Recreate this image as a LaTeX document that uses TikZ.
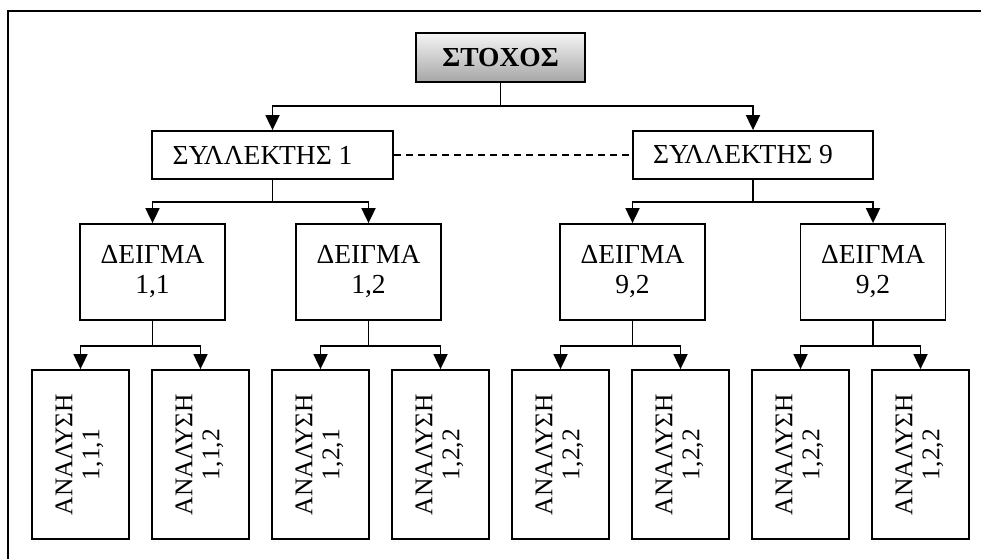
\documentclass[tikz,border=0pt]{standalone}
\usepackage{fontspec}
\setmainfont{Liberation Serif}
\usepackage{graphicx}
\usetikzlibrary{arrows.meta}
\newcommand{\vlab}[2]{\rotatebox{90}{\fontsize{25.5}{27}\selectfont\begin{tabular}{@{}c@{}}#1\\#2\end{tabular}}}
\begin{document}
\begin{tikzpicture}[x=1pt,y=-1pt,
  box/.style={draw, line width=1.8pt, inner sep=0pt, align=center, fill=white},
  arr/.style={line width=1.8pt, -{Triangle[length=15pt,width=14pt]}},
  ln/.style={line width=1.8pt},
  txt/.style={font=\fontsize{27.5}{30}\selectfont},
  sbox/.style={box, txt, minimum width=241pt, minimum height=48pt},
  dbox/.style={box, txt, minimum width=145pt, minimum height=96pt},
  abox/.style={box, minimum width=97pt, minimum height=169pt},
]
\useasboundingbox (0,0) rectangle (981,558);
\clip (0,0) rectangle (981,558);
\draw[ln] (8,600) -- (8,11) -- (1000,11);

\node[box, minimum width=169pt, minimum height=49pt, top color=gray!8, bottom color=gray!70,
      font=\bfseries\fontsize{27.5}{30}\selectfont] (st) at (500.5,57.5) {ΣΤΟΧΟΣ};

\node[sbox] (s1) at (272.5,155) {ΣΥΛΛΕΚΤΗΣ 1\hspace*{20pt}};
\node[sbox, minimum width=240pt] (s9) at (753,155) {ΣΥΛΛΕΚΤΗΣ 9\hspace*{20pt}};

\node[dbox] (d11) at (152.5,272) {ΔΕΙΓΜΑ\\1,1};
\node[dbox] (d12) at (368.5,272) {ΔΕΙΓΜΑ\\1,2};
\node[dbox] (d91) at (632.5,272) {ΔΕΙΓΜΑ\\9,2};
\node[dbox] (d92) at (873,272) {ΔΕΙΓΜΑ\\9,2};

\node[abox] (a1) at (80.5,454.5) {\vlab{ΑΝΑΛΥΣΗ}{1,1,1}};
\node[abox] (a2) at (200.5,454.5) {\vlab{ΑΝΑΛΥΣΗ}{1,1,2}};
\node[abox] (a3) at (320.5,454.5) {\vlab{ΑΝΑΛΥΣΗ}{1,2,1}};
\node[abox] (a4) at (440.5,454.5) {\vlab{ΑΝΑΛΥΣΗ}{1,2,2}};
\node[abox] (a5) at (560.5,454.5) {\vlab{ΑΝΑΛΥΣΗ}{1,2,2}};
\node[abox] (a6) at (680.5,454.5) {\vlab{ΑΝΑΛΥΣΗ}{1,2,2}};
\node[abox] (a7) at (800.5,454.5) {\vlab{ΑΝΑΛΥΣΗ}{1,2,2}};
\node[abox] (a8) at (920.5,454.5) {\vlab{ΑΝΑΛΥΣΗ}{1,2,2}};

% junctions
\coordinate (j0) at (500.5,106);
\coordinate (js1) at (272.5,202);
\coordinate (js9) at (753,202);
\coordinate (jd11) at (152.5,346);
\coordinate (jd12) at (368.5,346);
\coordinate (jd91) at (632.5,346);
\coordinate (jd92) at (873,346);

\draw[ln] (st.south) -- (j0);
\draw[arr] (j0) -| (s1.north);
\draw[arr] (j0) -| (s9.north);

\draw[dash pattern=on 7pt off 5pt, line width=1.4pt] (s1.east) -- (s9.west);

\draw[ln] (s1.south) -- (js1);
\draw[arr] (js1) -| (d11.north);
\draw[arr] (js1) -| (d12.north);
\draw[ln] (s9.south) -- (js9);
\draw[arr] (js9) -| (d91.north);
\draw[arr] (js9) -| (d92.north);

\draw[ln] (d11.south) -- (jd11);
\draw[arr] (jd11) -| (a1.north);
\draw[arr] (jd11) -| (a2.north);
\draw[ln] (d12.south) -- (jd12);
\draw[arr] (jd12) -| (a3.north);
\draw[arr] (jd12) -| (a4.north);
\draw[ln] (d91.south) -- (jd91);
\draw[arr] (jd91) -| (a5.north);
\draw[arr] (jd91) -| (a6.north);
\draw[ln] (d92.south) -- (jd92);
\draw[arr] (jd92) -| (a7.north);
\draw[arr] (jd92) -| (a8.north);
\end{tikzpicture}
\end{document}
